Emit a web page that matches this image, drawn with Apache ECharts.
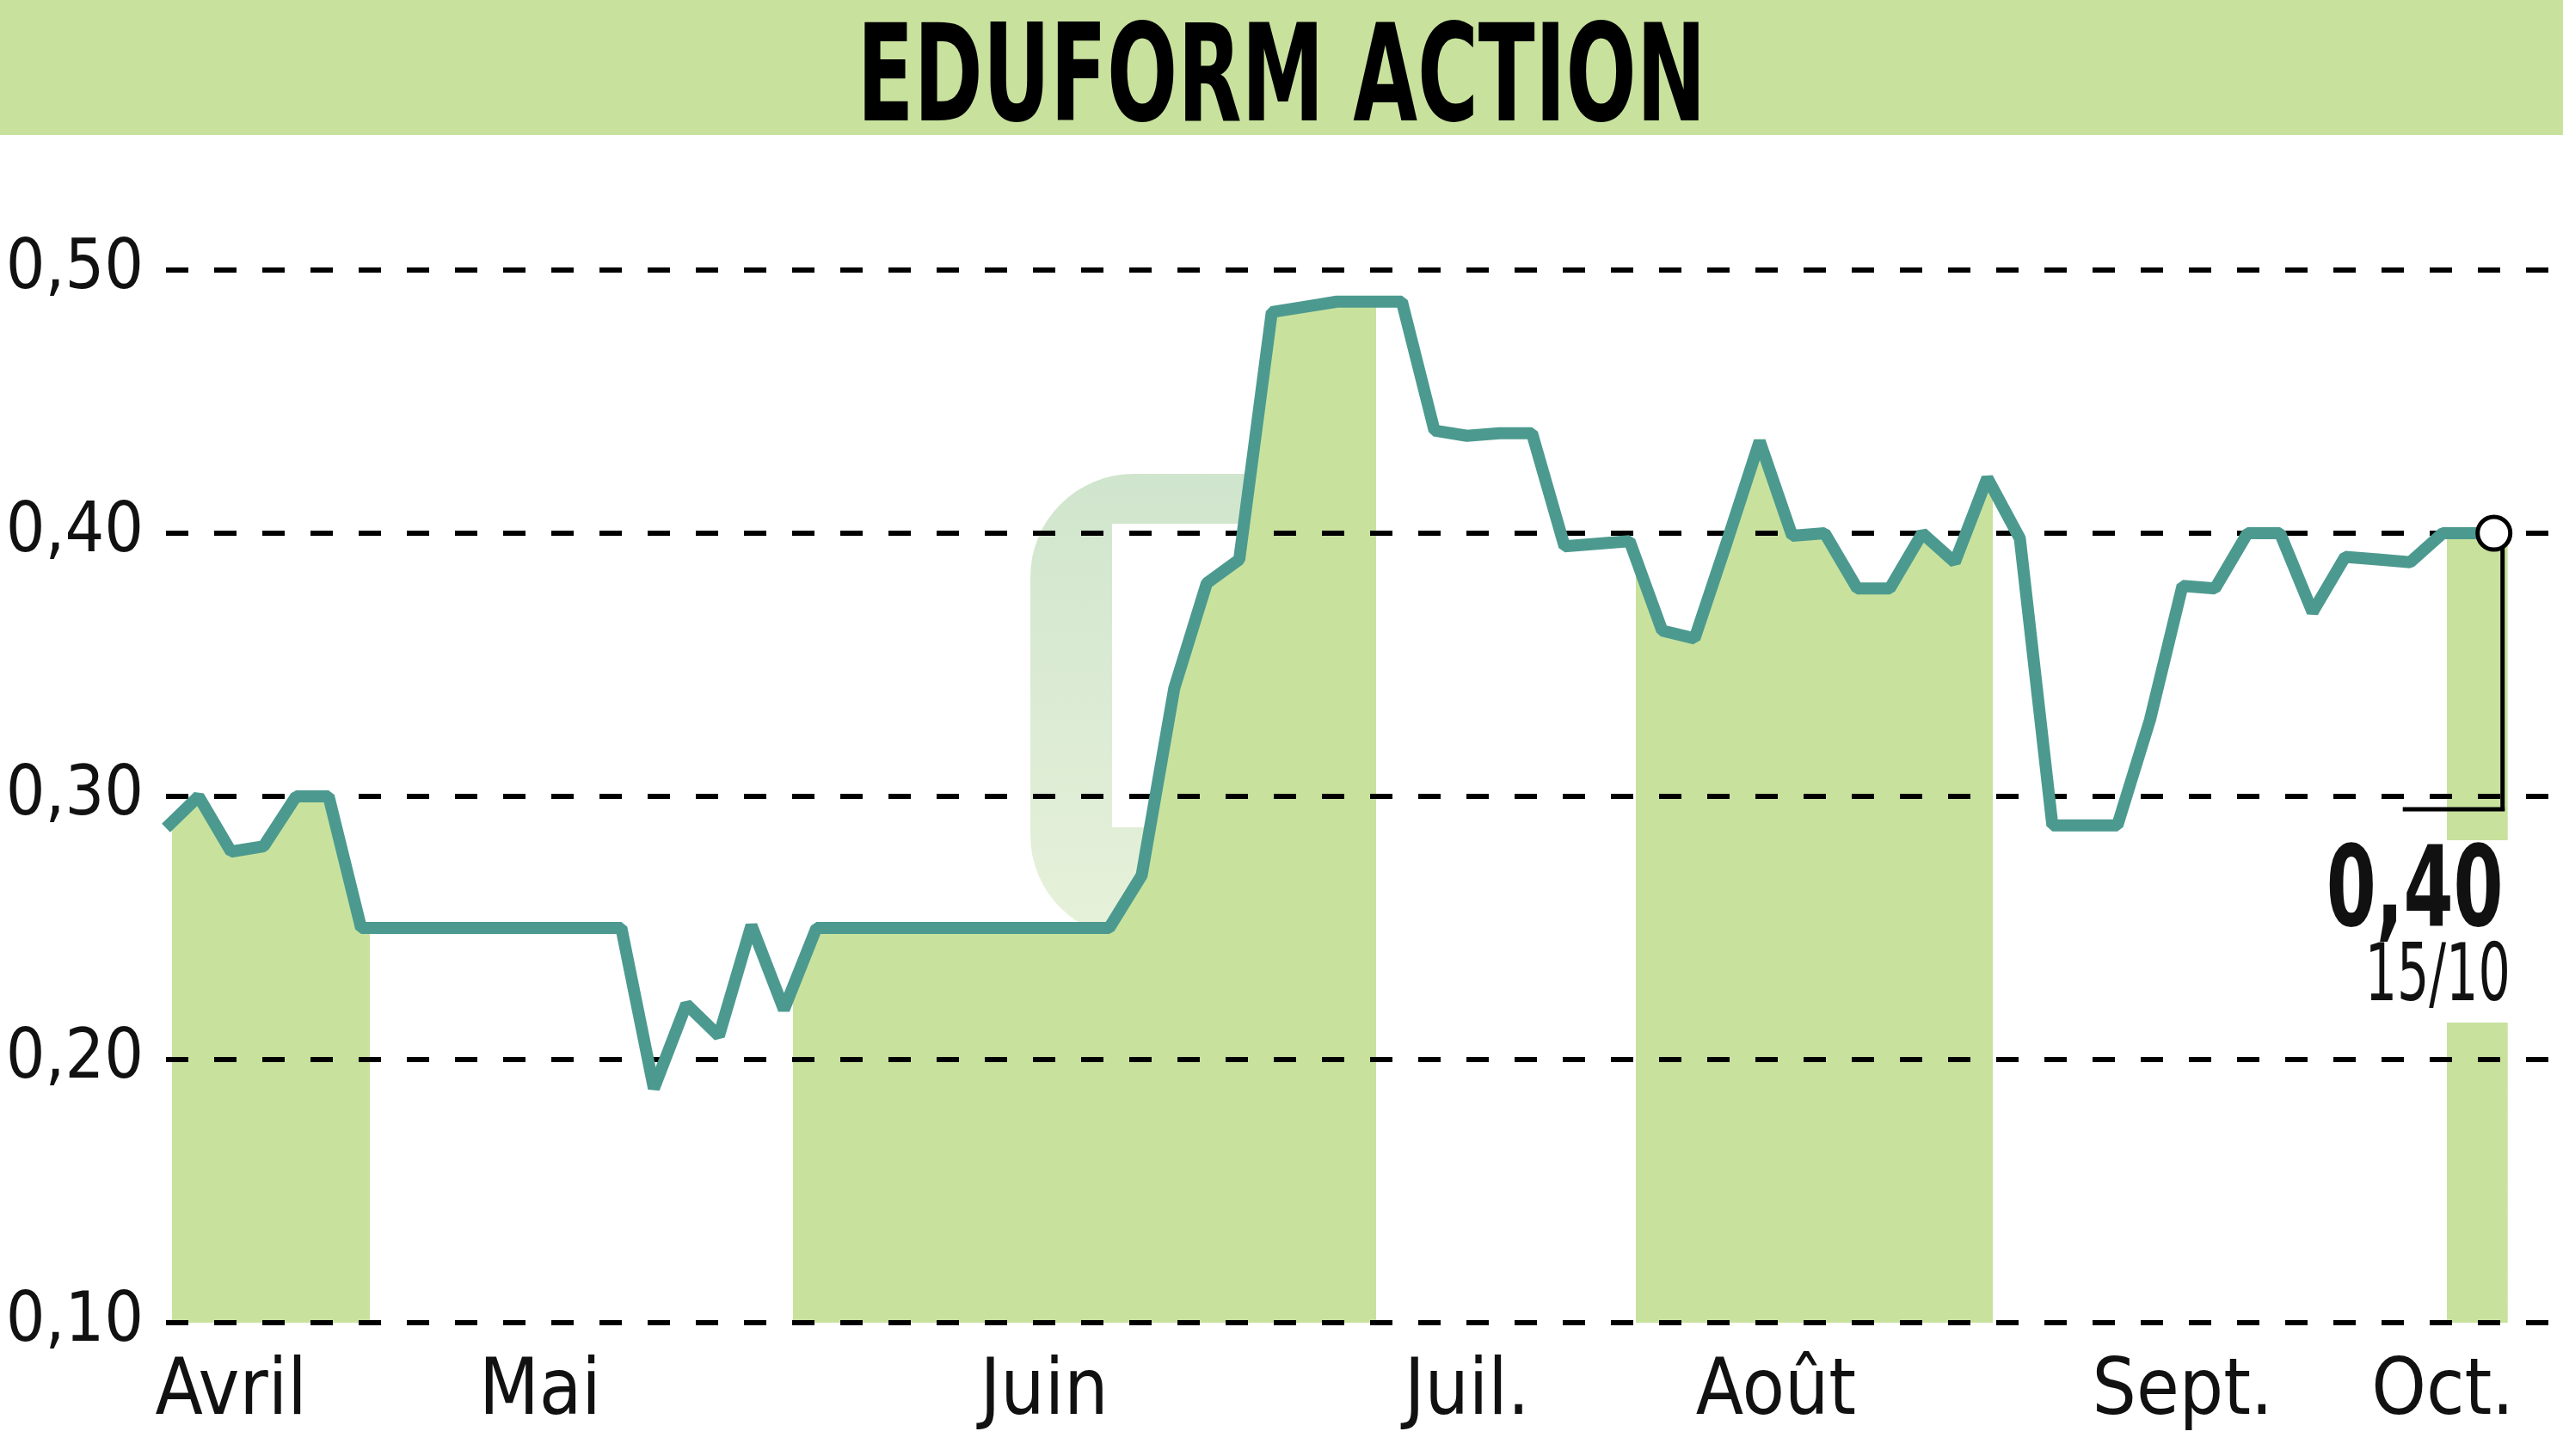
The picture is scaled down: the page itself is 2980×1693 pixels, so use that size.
<!DOCTYPE html>
<html>
<head>
<meta charset="utf-8">
<script src="https://cdn.jsdelivr.net/npm/echarts@6/dist/echarts.min.js"></script>
<style>
html,body{margin:0;padding:0;background:#ffffff;}
#chart{width:2980px;height:1693px;}
</style>
</head>
<body>
<div id="chart"></div>
<script>
// ---------- data ----------
const chartTitle = 'EDUFORM ACTION';
// one value per trading day (index 0 = first day shown)
const prices = [
  0.288, 0.30, 0.279, 0.281, 0.30, 0.30, 0.25,
  0.25, 0.25, 0.25, 0.25, 0.25, 0.25, 0.25, 0.25,
  0.189, 0.221, 0.209, 0.251, 0.219,
  0.25, 0.25, 0.25, 0.25, 0.25, 0.25, 0.25, 0.25, 0.25, 0.25,
  0.270, 0.341, 0.381, 0.390, 0.484, 0.486, 0.488, 0.488,
  0.488, 0.439, 0.437, 0.438, 0.438, 0.395, 0.396, 0.397,
  0.363, 0.360, 0.397, 0.435, 0.399, 0.40, 0.379, 0.379, 0.40, 0.389, 0.421,
  0.398, 0.289, 0.289, 0.289, 0.329, 0.380, 0.379, 0.40, 0.40, 0.370, 0.391, 0.39, 0.389, 0.40,
  0.40, 0.40
];
const monthLabels  = ['Avril', 'Mai', 'Juin', 'Juil.', 'Août', 'Sept.', 'Oct.'];
const monthLabelAt = [2, 11.5, 27, 40, 49.5, 62, 70];           // day index of each month label
const shadedMonths = [[0.18, 6.27], [19.28, 37.2], [45.19, 56.16], [70.12, 72.2]]; // day-index spans
const yMin = 0.10, yMax = 0.50, yStep = 0.10;
const lastDate = '15/10';

// ---------- style ----------
const GREEN = '#c8e29e';
const TEAL = '#4c9a8f';
const FONT = '"Liberation Sans Narrow","DejaVu Sans Condensed","Roboto Condensed",sans-serif';

const points = prices.map((v, i) => [i, v]);
const lastIdx = prices.length - 1;
const lastVal = prices[lastIdx];
const fmt = v => v.toFixed(2).replace('.', ',');

// measure texts for horizontal condensing
const mctx = document.createElement('canvas').getContext('2d');
function fitScale(text, font, target) {
  mctx.font = font;
  return target / mctx.measureText(text).width;
}
const TITLE_FONT = 'bold 156px ' + FONT;
const LAST_FONT = 'bold 130px ' + FONT;
const DATE_FONT = '92px ' + FONT;
const titleScale = fitScale(chartTitle, TITLE_FONT, 987);
const lastScale = fitScale(fmt(lastVal), LAST_FONT, 206);
const dateScale = fitScale(lastDate, DATE_FONT, 169);

const chart = echarts.init(document.getElementById('chart'), null, {renderer: 'canvas'});

chart.setOption({
  animation: false,
  backgroundColor: '#ffffff',
  grid: {left: 193, right: 0, top: 314, bottom: 155, containLabel: false, outerBoundsMode: 'none'},
  xAxis: {
    type: 'value',
    min: 0,
    max: 73.7,
    interval: 0.5,
    axisLine: {show: false},
    axisTick: {show: false},
    splitLine: {show: false},
    axisLabel: {
      show: true,
      margin: 38,
      fontFamily: FONT,
      fontSize: 90,
      color: '#111',
      showMinLabel: true,
      showMaxLabel: false,
      formatter: function (v) {
        for (let k = 0; k < monthLabelAt.length; k++) {
          if (Math.abs(monthLabelAt[k] - v) < 1e-6) return monthLabels[k];
        }
        return '';
      }
    }
  },
  yAxis: {
    type: 'value',
    min: yMin,
    max: yMax,
    interval: yStep,
    z: 1.5,
    axisLine: {show: false},
    axisTick: {show: false},
    axisLabel: {
      margin: 26,
      fontFamily: FONT,
      fontSize: 80,
      color: '#111',
      formatter: v => fmt(v)
    },
    splitLine: {
      show: true,
      lineStyle: {color: '#000', width: 6, type: [26, 30]}
    }
  },
  visualMap: [{
    type: 'piecewise',
    show: false,
    dimension: 0,
    seriesIndex: 0,
    pieces: shadedMonths.map(r => ({gte: r[0], lte: r[1], color: GREEN})),
    outOfRange: {color: 'rgba(255,255,255,0)'}
  }],
  series: [
    {
      type: 'line',
      data: points,
      z: 1,
      symbol: 'none',
      silent: true,
      lineStyle: {width: 0, opacity: 0},
      areaStyle: {opacity: 1, origin: 'start'}
    },
    {
      type: 'line',
      data: points,
      z: 3,
      symbol: 'none',
      silent: true,
      lineStyle: {color: TEAL, width: 14},
      markPoint: {
        silent: true,
        symbol: 'circle',
        symbolSize: 38,
        symbolOffset: [-16, 0],
        itemStyle: {color: '#ffffff', borderColor: '#000', borderWidth: 5},
        label: {show: false},
        data: [{coord: [lastIdx, lastVal]}]
      }
    }
  ],
  graphic: [
    {id: 'banner', type: 'rect', z: 0, silent: true,
     shape: {x: 0, y: 0, width: 2980, height: 157}, style: {fill: GREEN}},
    {id: 'title', type: 'text', z: 5, silent: true, x: 1490, y: 99, scaleX: titleScale,
     style: {text: chartTitle, font: TITLE_FONT, fill: '#000',
             textAlign: 'center', textVerticalAlign: 'middle', align: 'center', verticalAlign: 'middle'}},
    {id: 'wm', type: 'rect', z: 0, silent: true,
     shape: {x: 1198, y: 551, width: 290, height: 540, r: [120, 30, 30, 120]},
     style: {fill: new echarts.graphic.LinearGradient(0, 0, 0, 1, [
       {offset: 0, color: '#d0e5cd'}, {offset: 1, color: '#e7f1da'}])}},
    {id: 'wmInner', type: 'rect', z: 0, silent: true,
     shape: {x: 1293, y: 609, width: 200, height: 353}, style: {fill: '#ffffff'}}
  ]
});

// annotation of the last value, placed from the library's own scale
const p = chart.convertToPixel({xAxisIndex: 0, yAxisIndex: 0}, [lastIdx, lastVal]);
const px = p[0], py = p[1];
chart.setOption({
  graphic: [
    {id: 'bgA', type: 'rect', z: 4, silent: true,
     shape: {x: px - 216, y: py + 357, width: 222, height: 121}, style: {fill: '#ffffff'}},
    {id: 'bgB', type: 'rect', z: 4, silent: true,
     shape: {x: px - 176, y: py + 478, width: 177, height: 91}, style: {fill: '#ffffff'}},
    {id: 'vline', type: 'line', z: 6, silent: true,
     shape: {x1: px - 6, y1: py + 17, x2: px - 6, y2: py + 323},
     style: {stroke: '#000', lineWidth: 5}},
    {id: 'hline', type: 'line', z: 6, silent: true,
     shape: {x1: px - 122, y1: py + 321, x2: px - 3.5, y2: py + 321},
     style: {stroke: '#000', lineWidth: 5}},
    {id: 'lastVal', type: 'text', z: 7, silent: true, x: px - 5, y: py + 422, scaleX: lastScale,
     style: {text: fmt(lastVal), font: LAST_FONT, fill: '#111',
             textAlign: 'right', textVerticalAlign: 'middle', align: 'right', verticalAlign: 'middle'}},
    {id: 'lastDate', type: 'text', z: 7, silent: true, x: px + 3, y: py + 519, scaleX: dateScale,
     style: {text: lastDate, font: DATE_FONT, fill: '#111',
             textAlign: 'right', textVerticalAlign: 'middle', align: 'right', verticalAlign: 'middle'}}
  ]
});
</script>
</body>
</html>
